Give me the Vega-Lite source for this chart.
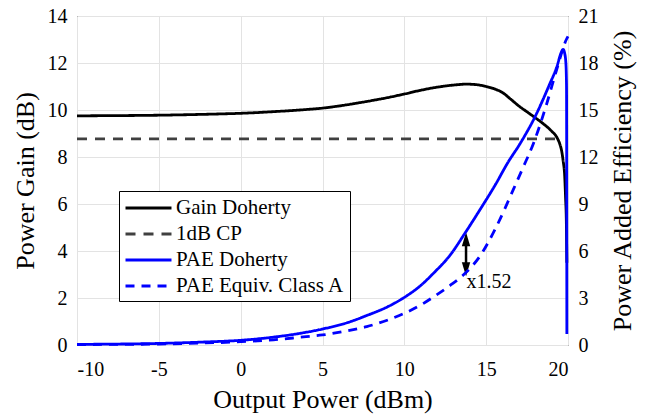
{
  "$schema": "https://vega.github.io/schema/vega-lite/v6.json",
  "width": 491,
  "height": 329,
  "autosize": "none",
  "padding": {"left": 77, "top": 16, "right": 87, "bottom": 73},
  "background": "white",
  "config": {
    "font": "Liberation Serif",
    "view": {"stroke": "#000000", "strokeWidth": 1},
    "axis": {
      "labelFont": "Liberation Serif",
      "titleFont": "Liberation Serif",
      "labelFontSize": 20,
      "titleFontSize": 26,
      "titleFontWeight": "normal",
      "labelColor": "#000000",
      "titleColor": "#000000",
      "gridColor": "#e3e3e3",
      "gridWidth": 1,
      "domain": false,
      "ticks": false
    },
    "legend": {
      "labelFont": "Liberation Serif",
      "labelFontSize": 21,
      "labelColor": "#000000",
      "labelLimit": 400
    }
  },
  "datasets": {
    "gain": [
      {"x": -10, "y": 9.75, "series": "Gain Doherty"},
      {"x": -8, "y": 9.76, "series": "Gain Doherty"},
      {"x": -6, "y": 9.77, "series": "Gain Doherty"},
      {"x": -4, "y": 9.79, "series": "Gain Doherty"},
      {"x": -2, "y": 9.82, "series": "Gain Doherty"},
      {"x": 0, "y": 9.86, "series": "Gain Doherty"},
      {"x": 1, "y": 9.89, "series": "Gain Doherty"},
      {"x": 2, "y": 9.93, "series": "Gain Doherty"},
      {"x": 3, "y": 9.97, "series": "Gain Doherty"},
      {"x": 4, "y": 10.02, "series": "Gain Doherty"},
      {"x": 5, "y": 10.08, "series": "Gain Doherty"},
      {"x": 6, "y": 10.17, "series": "Gain Doherty"},
      {"x": 7, "y": 10.28, "series": "Gain Doherty"},
      {"x": 8, "y": 10.4, "series": "Gain Doherty"},
      {"x": 9, "y": 10.53, "series": "Gain Doherty"},
      {"x": 10, "y": 10.68, "series": "Gain Doherty"},
      {"x": 11, "y": 10.84, "series": "Gain Doherty"},
      {"x": 12, "y": 10.97, "series": "Gain Doherty"},
      {"x": 13, "y": 11.06, "series": "Gain Doherty"},
      {"x": 13.8, "y": 11.1, "series": "Gain Doherty"},
      {"x": 14.5, "y": 11.07, "series": "Gain Doherty"},
      {"x": 15, "y": 11.0, "series": "Gain Doherty"},
      {"x": 15.5, "y": 10.9, "series": "Gain Doherty"},
      {"x": 16, "y": 10.74, "series": "Gain Doherty"},
      {"x": 16.5, "y": 10.46, "series": "Gain Doherty"},
      {"x": 17, "y": 10.17, "series": "Gain Doherty"},
      {"x": 17.5, "y": 9.92, "series": "Gain Doherty"},
      {"x": 18, "y": 9.67, "series": "Gain Doherty"},
      {"x": 18.5, "y": 9.41, "series": "Gain Doherty"},
      {"x": 19, "y": 9.1, "series": "Gain Doherty"},
      {"x": 19.3, "y": 8.86, "series": "Gain Doherty"},
      {"x": 19.5, "y": 8.55, "series": "Gain Doherty"},
      {"x": 19.6, "y": 8.3, "series": "Gain Doherty"},
      {"x": 19.7, "y": 7.85, "series": "Gain Doherty"},
      {"x": 19.8, "y": 7.16, "series": "Gain Doherty"},
      {"x": 19.85, "y": 6.3, "series": "Gain Doherty"},
      {"x": 19.9, "y": 5.2, "series": "Gain Doherty"},
      {"x": 19.93, "y": 3.5, "series": "Gain Doherty"},
      {"x": -10, "y": 8.77, "series": "1dB CP"},
      {"x": 19.3, "y": 8.77, "series": "1dB CP"}
    ],
    "pae": [
      {"x": -10, "y": 0.04, "series": "PAE Doherty"},
      {"x": -7.5, "y": 0.06, "series": "PAE Doherty"},
      {"x": -5, "y": 0.1, "series": "PAE Doherty"},
      {"x": -2.5, "y": 0.18, "series": "PAE Doherty"},
      {"x": 0, "y": 0.3, "series": "PAE Doherty"},
      {"x": 2, "y": 0.5, "series": "PAE Doherty"},
      {"x": 3.6, "y": 0.74, "series": "PAE Doherty"},
      {"x": 5, "y": 1.02, "series": "PAE Doherty"},
      {"x": 6.5, "y": 1.42, "series": "PAE Doherty"},
      {"x": 7.7, "y": 1.88, "series": "PAE Doherty"},
      {"x": 9, "y": 2.45, "series": "PAE Doherty"},
      {"x": 10, "y": 3.04, "series": "PAE Doherty"},
      {"x": 11, "y": 3.8, "series": "PAE Doherty"},
      {"x": 11.8, "y": 4.6, "series": "PAE Doherty"},
      {"x": 12.8, "y": 5.74, "series": "PAE Doherty"},
      {"x": 13.7, "y": 7.13, "series": "PAE Doherty"},
      {"x": 14.6, "y": 8.6, "series": "PAE Doherty"},
      {"x": 15.6, "y": 10.3, "series": "PAE Doherty"},
      {"x": 16.3, "y": 11.6, "series": "PAE Doherty"},
      {"x": 17.1, "y": 12.9, "series": "PAE Doherty"},
      {"x": 18, "y": 14.6, "series": "PAE Doherty"},
      {"x": 18.9, "y": 16.7, "series": "PAE Doherty"},
      {"x": 19.3, "y": 17.7, "series": "PAE Doherty"},
      {"x": 19.6, "y": 18.7, "series": "PAE Doherty"},
      {"x": 19.7, "y": 18.87, "series": "PAE Doherty"},
      {"x": 19.8, "y": 18.6, "series": "PAE Doherty"},
      {"x": 19.87, "y": 18.0, "series": "PAE Doherty"},
      {"x": 19.91, "y": 16.5, "series": "PAE Doherty"},
      {"x": 19.93, "y": 0.7, "series": "PAE Doherty"},
      {"x": -10, "y": 0.03, "series": "PAE Equiv. Class A"},
      {"x": -5, "y": 0.06, "series": "PAE Equiv. Class A"},
      {"x": -2.5, "y": 0.12, "series": "PAE Equiv. Class A"},
      {"x": 0, "y": 0.21, "series": "PAE Equiv. Class A"},
      {"x": 2, "y": 0.33, "series": "PAE Equiv. Class A"},
      {"x": 3.6, "y": 0.49, "series": "PAE Equiv. Class A"},
      {"x": 5, "y": 0.64, "series": "PAE Equiv. Class A"},
      {"x": 6.5, "y": 0.9, "series": "PAE Equiv. Class A"},
      {"x": 7.7, "y": 1.17, "series": "PAE Equiv. Class A"},
      {"x": 9, "y": 1.6, "series": "PAE Equiv. Class A"},
      {"x": 10, "y": 2.02, "series": "PAE Equiv. Class A"},
      {"x": 11, "y": 2.55, "series": "PAE Equiv. Class A"},
      {"x": 11.8, "y": 3.08, "series": "PAE Equiv. Class A"},
      {"x": 12.8, "y": 3.8, "series": "PAE Equiv. Class A"},
      {"x": 13.6, "y": 4.47, "series": "PAE Equiv. Class A"},
      {"x": 14.6, "y": 5.64, "series": "PAE Equiv. Class A"},
      {"x": 15.6, "y": 7.5, "series": "PAE Equiv. Class A"},
      {"x": 16.65, "y": 9.9, "series": "PAE Equiv. Class A"},
      {"x": 17.2, "y": 11.2, "series": "PAE Equiv. Class A"},
      {"x": 17.9, "y": 12.9, "series": "PAE Equiv. Class A"},
      {"x": 18.7, "y": 15.4, "series": "PAE Equiv. Class A"},
      {"x": 19.3, "y": 17.55, "series": "PAE Equiv. Class A"},
      {"x": 19.9, "y": 19.5, "series": "PAE Equiv. Class A"},
      {"x": 20, "y": 19.7, "series": "PAE Equiv. Class A"}
    ],
    "arrowline": [{"x": 13.77, "y": 3.3, "y2": 4.42}],
    "arrowheads": [
      {"x": 13.77, "y": 4.5, "head": "up"},
      {"x": 13.77, "y": 3.22, "head": "down"}
    ],
    "note": [{"x": 13.8, "y": 2.69, "label": "x1.52"}]
  },
  "encoding": {
    "x": {
      "field": "x",
      "type": "quantitative",
      "scale": {"domain": [-10, 20], "nice": false, "zero": false},
      "axis": {
        "values": [-10, -5, 0, 5, 10, 15, 20],
        "labelExpr": "replace(datum.label, '\u2212', '-')",
        "title": "Output Power (dBm)",
        "labelFont": "Liberation Serif",
        "titleFont": "Liberation Serif",
        "labelFontSize": 20,
        "labelPadding": 14,
        "titleX": 245.5,
        "titleY": 54,
        "titleBaseline": "middle",
        "titleAlign": "center"
      }
    }
  },
  "layer": [
    {
      "encoding": {
        "y": {
          "field": "y",
          "type": "quantitative",
          "scale": {"domain": [0, 14], "nice": false},
          "axis": {
            "values": [0, 2, 4, 6, 8, 10, 12, 14],
            "title": "Power Gain (dB)",
            "labelFont": "Liberation Serif",
            "titleFont": "Liberation Serif",
            "labelFontSize": 20,
            "labelPadding": 10,
            "titleAngle": -90,
            "titleX": -52,
            "titleY": 164.5,
            "titleBaseline": "middle",
            "titleAlign": "center"
          }
        }
      },
      "layer": [
        {
          "data": {"name": "gain"},
          "mark": {"type": "line", "strokeWidth": 2.8, "interpolate": "monotone"},
          "encoding": {
            "color": {
              "field": "series",
              "type": "nominal",
              "scale": {
                "domain": ["Gain Doherty", "1dB CP", "PAE Doherty", "PAE Equiv. Class A"],
                "range": ["#000000", "#404040", "#0000ff", "#0000ff"]
              },
              "legend": {
                "title": null,
                "orient": "none",
                "legendX": 42,
                "legendY": 175,
                "symbolType": "M-1,0L3.38,0",
                "symbolSize": 441,
                "symbolStrokeWidth": 3,
                "labelOffset": 28,
                "rowPadding": 4,
                "padding": 5,
                "strokeColor": "#000000",
                "fillColor": "#ffffff"
              }
            },
            "strokeDash": {
              "field": "series",
              "type": "nominal",
              "scale": {
                "domain": ["Gain Doherty", "1dB CP", "PAE Doherty", "PAE Equiv. Class A"],
                "range": [[1, 0], [10, 8], [1, 0], [9, 7]]
              },
              "legend": {
                "title": null,
                "orient": "none",
                "legendX": 42,
                "legendY": 175,
                "symbolType": "M-1,0L3.38,0",
                "symbolSize": 441,
                "symbolStrokeWidth": 3,
                "labelOffset": 28,
                "rowPadding": 4,
                "padding": 5,
                "strokeColor": "#000000",
                "fillColor": "#ffffff"
              }
            }
          }
        },
        {
          "data": {"name": "arrowline"},
          "mark": {"type": "rule", "color": "#000000", "strokeWidth": 2.5},
          "encoding": {"y2": {"field": "y2"}}
        },
        {
          "data": {"name": "arrowheads"},
          "mark": {"type": "point", "filled": true, "color": "#000000", "opacity": 1, "size": 196, "strokeWidth": 0},
          "encoding": {
            "shape": {
              "field": "head",
              "type": "nominal",
              "scale": {"domain": ["up", "down"], "range": ["M0,-1L0.6,1L-0.6,1Z", "M0,1L0.6,-1L-0.6,-1Z"]},
              "legend": null
            }
          }
        },
        {
          "data": {"name": "note"},
          "mark": {"type": "text", "align": "left", "baseline": "middle", "font": "Liberation Serif", "fontSize": 20, "color": "#000000"},
          "encoding": {"text": {"field": "label"}}
        }
      ]
    },
    {
      "data": {"name": "pae"},
      "mark": {"type": "line", "strokeWidth": 2.8, "interpolate": "monotone"},
      "encoding": {
        "y": {
          "field": "y",
          "type": "quantitative",
          "scale": {"domain": [0, 21], "nice": false},
          "axis": {
            "orient": "right",
            "values": [0, 3, 6, 9, 12, 15, 18, 21],
            "grid": false,
            "title": "Power Added Efficiency (%)",
            "labelFont": "Liberation Serif",
            "titleFont": "Liberation Serif",
            "labelFontSize": 20,
            "labelPadding": 10,
            "titleAngle": -90,
            "titleX": 54,
            "titleY": 164.5,
            "titleBaseline": "middle",
            "titleAlign": "center"
          }
        },
        "color": {"field": "series", "type": "nominal"},
        "strokeDash": {"field": "series", "type": "nominal"}
      }
    }
  ],
  "resolve": {"scale": {"y": "independent"}}
}
